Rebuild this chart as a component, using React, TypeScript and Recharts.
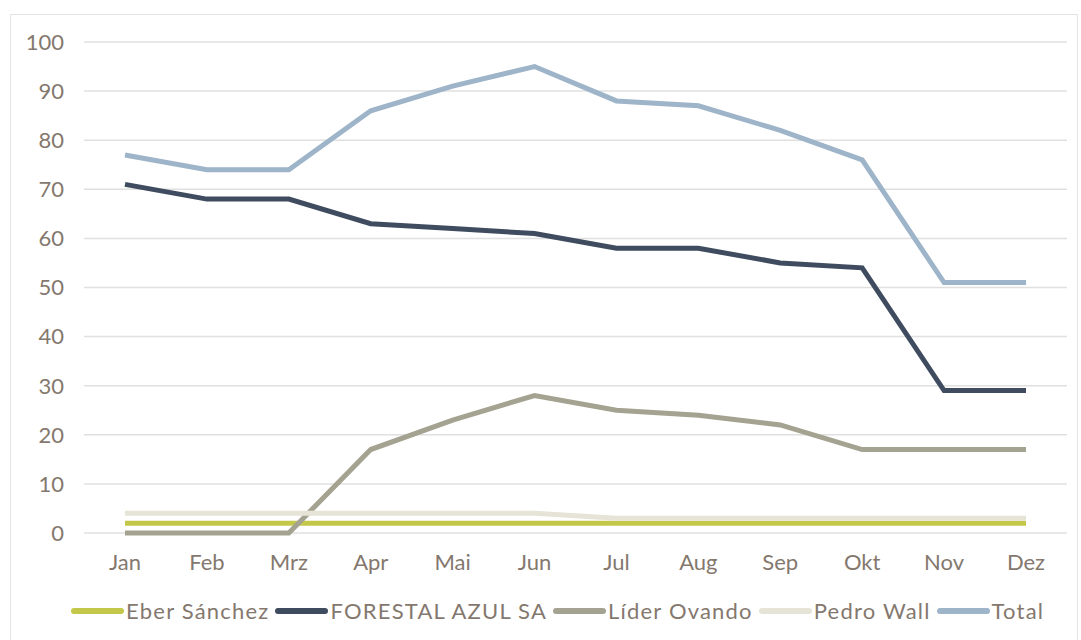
import React from 'react';
import { LineChart, Line, XAxis, YAxis, CartesianGrid, Legend } from 'recharts';

const months = ['Jan', 'Feb', 'Mrz', 'Apr', 'Mai', 'Jun', 'Jul', 'Aug', 'Sep', 'Okt', 'Nov', 'Dez'];
const eberSanchez = [2, 2, 2, 2, 2, 2, 2, 2, 2, 2, 2, 2];
const forestalAzul = [71, 68, 68, 63, 62, 61, 58, 58, 55, 54, 29, 29];
const liderOvando = [0, 0, 0, 17, 23, 28, 25, 24, 22, 17, 17, 17];
const pedroWall = [4, 4, 4, 4, 4, 4, 3, 3, 3, 3, 3, 3];
const total = [77, 74, 74, 86, 91, 95, 88, 87, 82, 76, 51, 51];
const yTicks = [0, 10, 20, 30, 40, 50, 60, 70, 80, 90, 100];

const series = [
  { key: 'eber', name: 'Eber Sánchez', color: '#c3c84a' },
  { key: 'forestal', name: 'FORESTAL AZUL SA', color: '#3f4b5e' },
  { key: 'lider', name: 'Líder Ovando', color: '#a4a290' },
  { key: 'pedro', name: 'Pedro Wall', color: '#e6e4d6' },
  { key: 'total', name: 'Total', color: '#9eb4c9' },
];

const data = months.map((m, i) => ({
  month: m,
  eber: eberSanchez[i],
  forestal: forestalAzul[i],
  lider: liderOvando[i],
  pedro: pedroWall[i],
  total: total[i],
}));

const textColor = '#84786e';
const font = 'Lato, sans-serif';

const LegendContent = () => (
  <div style={{ display: 'flex', alignItems: 'center', fontFamily: font, fontSize: 22, letterSpacing: 1.2, color: textColor, whiteSpace: 'nowrap' }}>
    {series.map((s) => (
      <div key={s.key} style={{ display: 'flex', alignItems: 'center', marginRight: 6 }}>
        <span style={{ display: 'inline-block', width: 53, height: 6, borderRadius: 3, backgroundColor: s.color, marginRight: 2 }} />
        <span>{s.name}</span>
      </div>
    ))}
  </div>
);

const App: React.FC = () => {
  return (
    <div style={{ position: 'absolute', left: 0, top: 0, width: 1081, height: 640, background: '#fff' }}>
      {/* chart frame */}
      <div style={{ position: 'absolute', left: 10, top: 14, width: 1068, height: 640, border: '1px solid #e3e3e3', boxSizing: 'border-box' }} />
      <div style={{ position: 'absolute', left: 0, top: 0 }}>
        <LineChart width={1081} height={640} data={data} margin={{ top: 42, right: 14, bottom: 0, left: 0 }}>
          <CartesianGrid vertical={false} stroke="#e0e0e0" strokeWidth={1.5} />
          <XAxis
            dataKey="month"
            height={107}
            axisLine={false}
            tickLine={false}
            tickMargin={15}
            padding={{ left: 41, right: 41 }}
            tick={{ fill: textColor, fontSize: 22, fontFamily: font }}
          />
          <YAxis
            width={84}
            domain={[0, 100]}
            ticks={yTicks}
            axisLine={false}
            tickLine={false}
            tickMargin={14}
            tick={{ fill: textColor, fontSize: 22, fontFamily: font }}
          />
          <Legend
            layout="horizontal"
            verticalAlign="middle"
            align="center"
            wrapperStyle={{ top: 597, left: 71, width: 1000, height: 30 }}
            content={<LegendContent />}
          />
          {series.map((s) => (
            <Line
              key={s.key}
              type="linear"
              dataKey={s.key}
              name={s.name}
              stroke={s.color}
              strokeWidth={5}
              dot={false}
              activeDot={false}
              isAnimationActive={false}
            />
          ))}
        </LineChart>
      </div>
    </div>
  );
};

export default App;
